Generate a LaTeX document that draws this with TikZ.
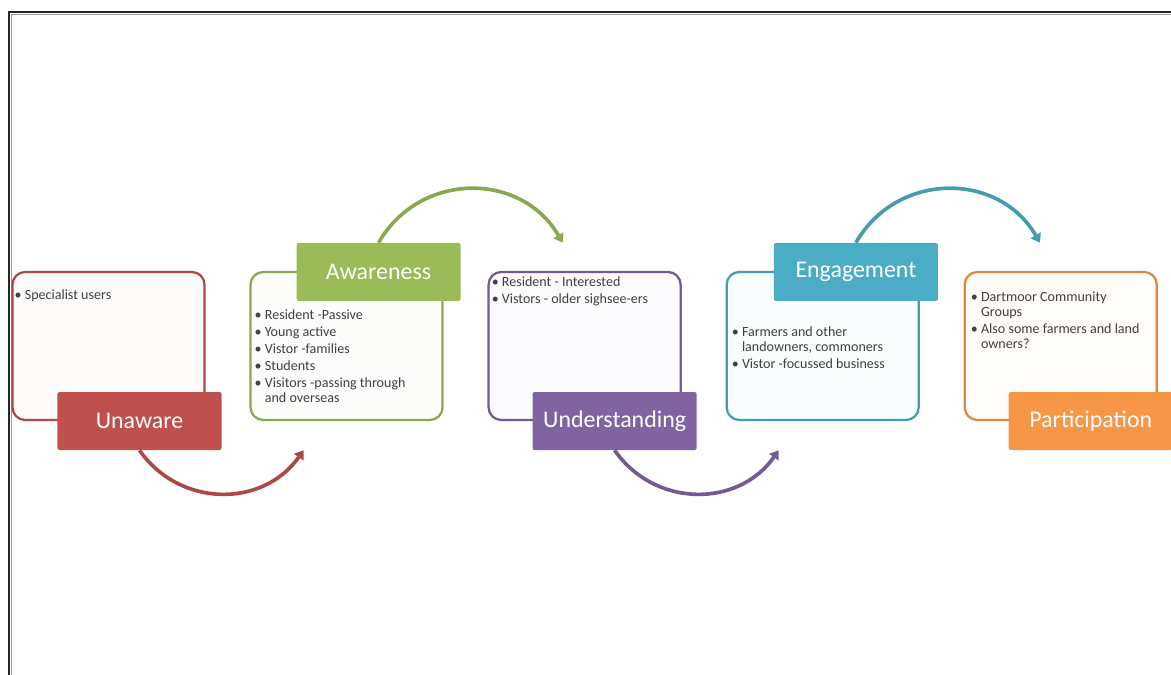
\documentclass[tikz,border=0pt]{standalone}
\usepackage{fontspec}
\setmainfont{Carlito}
\usetikzlibrary{arrows.meta, positioning}

\definecolor{cred}{HTML}{C0504D}
\definecolor{cgreen}{HTML}{9BBB59}
\definecolor{cpurple}{HTML}{8064A2}
\definecolor{cteal}{HTML}{4BACC6}
\definecolor{corange}{HTML}{F79646}

\newcommand{\bul}{\textbullet\ }
\newcommand{\ind}{\phantom{\textbullet\ }}

\begin{document}
\begin{tikzpicture} [x=0.025cm, y=0.025cm, node distance = 5.95cm, on grid,
   panel/.style = {draw=#1!90!black, line width=1.6pt, fill=#1!3, rounded corners=9pt,
                   minimum width=4.8cm, minimum height=3.7cm},
   tag/.style = {fill=#1, text=white, rounded corners=1.5pt, minimum width=4.1cm,
                 minimum height=1.45cm, font=\fontsize{17}{20}\selectfont},
   notes/.style = {anchor=north west, align=left, inner sep=0pt, text=black!75,
                   font=\fontsize{10}{12}\selectfont},
   flow/.style = {draw=#1!90!black, line width=2.6pt, -{Triangle[length=6pt,width=8pt]}}]

   \useasboundingbox (0,0) rectangle (1171,675);
   \draw[black!85, line width=1.5pt] (9,0) |- (1171,663);
   \draw[black!40, line width=0.8pt] (11.5,0) |- (1171,660.5);

   \node (ua)[panel=cred] at (108.5,329) {};
   \node (aw)[panel=cgreen, right = of ua] {};
   \node (ud)[panel=cpurple, right = of aw] {};
   \node (eg)[panel=cteal, right = of ud] {};
   \node (pc)[panel=corange, right = of eg] {};

   \node (ual)[tag=cred, below right = 1.875cm and 0.775cm of ua] {Unaware};
   \node (awl)[tag=cgreen, above right = 1.85cm and 0.8cm of aw] {Awareness};
   \node (udl)[tag=cpurple, below right = 1.875cm and 0.75cm of ud] {Understanding};
   \node (egl)[tag=cteal, above right = 1.85cm and 0.83cm of eg] {Engagement};
   \node (pcl)[tag=corange, below right = 1.875cm and 0.75cm of pc] {Participation};

   \node (uan)[notes] at ([shift={(3,-19)}]ua.north west) {\bul Specialist users};
   \node (awn)[notes] at ([shift={(5,-39)}]aw.north west)
      {\bul Resident -Passive\\ \bul Young active\\ \bul Vistor -families\\ \bul Students\\
       \bul Visitors -passing through\\[-1.4pt] \ind and overseas};
   \node (udn)[notes] at ([shift={(4,-6)}]ud.north west)
      {\bul Resident - Interested\\ \bul Vistors - older sighsee-ers};
   \node (egn)[notes] at ([shift={(6,-56)}]eg.north west)
      {\bul Farmers and other\\[-1.4pt] \ind landowners, commoners\\ \bul Vistor -focussed business};
   \node (pcn)[notes] at ([shift={(7,-21)}]pc.north west)
      {\bul Dartmoor Community\\[-1.4pt] \ind Groups\\ \bul Also some farmers and land\\[-1.4pt] \ind owners?};

   \coordinate[right = 4.1cm of ual.south] (ra);
   \coordinate[right = 4.6cm of awl.north] (ga);
   \coordinate[right = 4.1cm of udl.south] (pa);
   \coordinate[right = 4.6cm of egl.north] (ta);

   \draw[flow=cred] (ual.south) to [out=-55, in=-125, looseness=1.1] (ra);
   \draw[flow=cgreen] (awl.north) to [out=60, in=120, looseness=1.15] (ga);
   \draw[flow=cpurple] (udl.south) to [out=-55, in=-125, looseness=1.1] (pa);
   \draw[flow=cteal] (egl.north) to [out=60, in=120, looseness=1.15] (ta);

\end{tikzpicture}
\end{document}
